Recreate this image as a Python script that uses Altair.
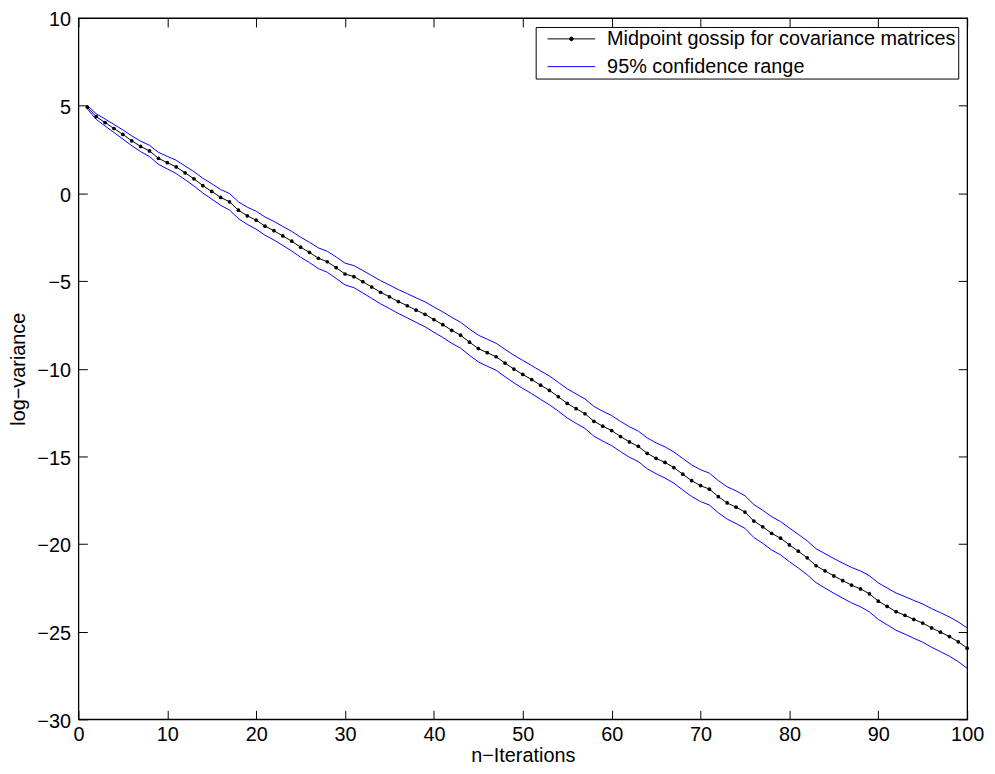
import altair as alt
import pandas as pd

iterations = list(range(1, 101))

mean_logvar = [
    4.92, 4.38, 4.04, 3.70, 3.36, 3.00, 2.68, 2.42, 2.00, 1.75,
    1.51, 1.17, 0.83, 0.44, 0.11, -0.23, -0.48, -0.96, -1.28, -1.53,
    -1.87, -2.13, -2.43, -2.73, -3.07, -3.37, -3.70, -3.90, -4.24, -4.60,
    -4.75, -5.04, -5.34, -5.64, -5.90, -6.17, -6.41, -6.66, -6.90, -7.20,
    -7.49, -7.81, -8.09, -8.49, -8.85, -9.09, -9.32, -9.68, -10.02, -10.33,
    -10.62, -10.94, -11.24, -11.60, -11.98, -12.28, -12.57, -13.00, -13.28, -13.53,
    -13.87, -14.18, -14.43, -14.83, -15.11, -15.35, -15.64, -16.02, -16.39, -16.67,
    -16.87, -17.30, -17.66, -17.90, -18.18, -18.69, -19.02, -19.39, -19.67, -20.05,
    -20.41, -20.79, -21.24, -21.53, -21.82, -22.09, -22.35, -22.56, -22.84, -23.26,
    -23.56, -23.86, -24.07, -24.30, -24.51, -24.79, -25.03, -25.28, -25.58, -25.94,
]

half_width = [
    0.10, 0.16, 0.20, 0.23, 0.26, 0.28, 0.30, 0.32, 0.34, 0.36,
    0.38, 0.39, 0.41, 0.42, 0.44, 0.45, 0.47, 0.48, 0.49, 0.51,
    0.52, 0.53, 0.54, 0.56, 0.57, 0.58, 0.59, 0.60, 0.61, 0.62,
    0.63, 0.64, 0.65, 0.66, 0.67, 0.68, 0.69, 0.70, 0.71, 0.72,
    0.73, 0.74, 0.74, 0.75, 0.76, 0.77, 0.77, 0.78, 0.79, 0.80,
    0.80, 0.81, 0.82, 0.82, 0.83, 0.84, 0.84, 0.85, 0.85, 0.86,
    0.86, 0.87, 0.87, 0.88, 0.88, 0.89, 0.89, 0.90, 0.90, 0.91,
    0.91, 0.92, 0.92, 0.93, 0.93, 0.94, 0.94, 0.95, 0.95, 0.96,
    0.96, 0.97, 0.97, 0.98, 0.99, 1.00, 1.01, 1.02, 1.03, 1.04,
    1.05, 1.06, 1.07, 1.08, 1.09, 1.10, 1.11, 1.12, 1.13, 1.15,
]

x_ticks = list(range(0, 101, 10))
y_ticks = list(range(-30, 11, 5))

MEAN = "Midpoint gossip for covariance matrices"
CI = "95% confidence range"

rows = []
for n, m, h in zip(iterations, mean_logvar, half_width):
    rows.append({"n": n, "v": m, "series": MEAN, "line": "mean"})
    rows.append({"n": n, "v": round(m + h, 3), "series": CI, "line": "upper"})
    rows.append({"n": n, "v": round(m - h, 3), "series": CI, "line": "lower"})
df = pd.DataFrame(rows)

W, H = 896, 707
FONT = "Liberation Sans"
FS = 20

xscale = alt.Scale(domain=[0, 100], nice=False, zero=False)
yscale = alt.Scale(domain=[-30, 10], nice=False, zero=False)
color_scale = alt.Scale(domain=[MEAN, CI], range=["#000000", "#0000ff"])

# legend symbols: a line sample with a dot marker for the mean, a plain line for the band
LINE_DOT = "M0,0H12M5.55,0A0.45,0.45 0 1,0 6.45,0A0.45,0.45 0 1,0 5.55,0"
LINE_ONLY = "M0,0H12"
shape_scale = alt.Scale(domain=[MEAN, CI], range=[LINE_DOT, LINE_ONLY])

legend = alt.Legend(
    title=None,
    orient="top-right",
    offset=9,
    symbolSize=64,
    symbolStrokeWidth=1,
    symbolOpacity=1,
    labelFontSize=FS,
    labelFont=FONT,
    labelColor="black",
    labelOffset=50,
    labelLimit=0,
    strokeColor="black",
    fillColor="white",
    padding=2,
    rowPadding=8,
)

base = alt.Chart(df)

common = dict(domain=False, grid=False, labelFont=FONT, titleFont=FONT,
              labelColor="black", titleColor="black", titleFontWeight="normal")

mean_line = base.transform_filter(alt.datum.line == "mean").mark_line(
    strokeWidth=1, color="black"
).encode(
    x=alt.X(
        "n:Q",
        scale=xscale,
        axis=alt.Axis(
            orient="bottom", values=x_ticks, title="n−Iterations", tickSize=0,
            labelPadding=5, labelFontSize=FS, titleFontSize=FS, titlePadding=2,
            labelFlush=False, **common,
        ),
    ),
    y=alt.Y(
        "v:Q",
        scale=yscale,
        axis=alt.Axis(
            orient="left", values=y_ticks, title="log−variance", tickSize=0,
            labelPadding=8, labelFontSize=FS, titleFontSize=FS, titlePadding=8,
            labelFlush=False, labelOffset=2, **common,
        ),
    ),
)

band_lines = base.transform_filter(alt.datum.line != "mean").mark_line(
    strokeWidth=1, color="#0000ff"
).encode(
    x=alt.X("n:Q", scale=xscale, axis=None),
    y=alt.Y("v:Q", scale=yscale, axis=None),
    detail="line:N",
)

points = base.transform_filter(alt.datum.line == "mean").mark_circle(
    size=14, color="black", opacity=1
).encode(
    x=alt.X("n:Q", scale=xscale, axis=None),
    y=alt.Y("v:Q", scale=yscale, axis=None),
)

# legend-only layer: no rows are drawn, the legend comes from the explicit domains
legend_layer = base.transform_filter("false").mark_point(
    filled=True, strokeWidth=1, size=64, opacity=1
).encode(
    x=alt.X("n:Q", scale=xscale, axis=None),
    y=alt.Y("v:Q", scale=yscale, axis=None),
    fill=alt.Fill("series:N", scale=color_scale, legend=legend),
    stroke=alt.Stroke("series:N", scale=color_scale, legend=legend),
    shape=alt.Shape("series:N", scale=shape_scale, legend=legend),
)

tick_style = dict(tickSize=9, labels=False, domain=False, grid=False, title=None,
                  tickColor="black", tickWidth=1)

ticks_a = base.mark_point(opacity=0).encode(
    x=alt.X("n:Q", scale=xscale, axis=alt.Axis(
        orient="top", offset=-H, values=x_ticks, **tick_style)),
    y=alt.Y("v:Q", scale=yscale, axis=alt.Axis(
        orient="right", offset=-W, values=y_ticks, **tick_style)),
)

ticks_b = base.mark_point(opacity=0).encode(
    x=alt.X("n:Q", scale=xscale, axis=alt.Axis(
        orient="bottom", offset=-H, values=x_ticks, **tick_style)),
    y=alt.Y("v:Q", scale=yscale, axis=alt.Axis(
        orient="left", offset=-W, values=y_ticks, **tick_style)),
)

chart = (
    alt.layer(mean_line, band_lines, points, legend_layer, ticks_a, ticks_b)
    .resolve_axis(x="independent", y="independent")
    .properties(
        width=W,
        height=H,
        background="white",
        autosize=alt.AutoSizeParams(type="none"),
        padding={"left": 71, "top": 7, "right": 20, "bottom": 52},
    )
    .configure_view(stroke="black", strokeWidth=1.3)
)

chart.save("out.html", embed_options={"renderer": "svg", "actions": False})
